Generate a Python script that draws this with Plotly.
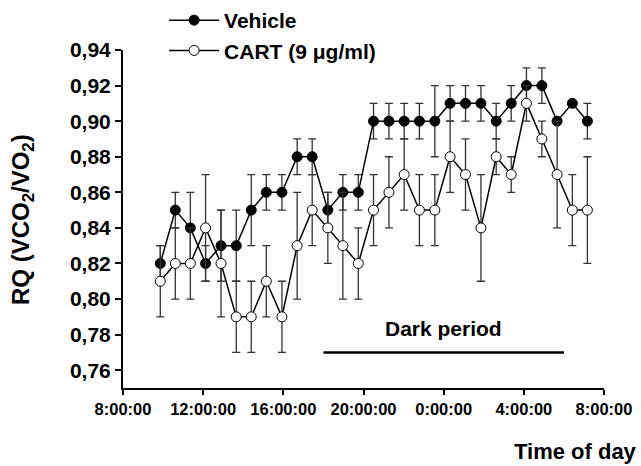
import plotly.graph_objects as go

# Sample times (hours since midnight of day 1; >24 = next day)
hours = [9.86, 10.61, 11.36, 12.12, 12.89, 13.65, 14.40, 15.15, 15.93, 16.69,
         17.44, 18.22, 18.97, 19.74, 20.50, 21.27, 22.03, 22.79, 23.56, 24.32,
         25.09, 25.86, 26.62, 27.37, 28.13, 28.90, 29.66, 30.42, 31.17]

vehicle = [0.82, 0.85, 0.84, 0.82, 0.83, 0.83, 0.85, 0.86, 0.86, 0.88,
           0.88, 0.85, 0.86, 0.86, 0.90, 0.90, 0.90, 0.90, 0.90, 0.91,
           0.91, 0.91, 0.90, 0.91, 0.92, 0.92, 0.90, 0.91, 0.90]
vehicle_err = [0.01, 0.01, 0.02, 0.01, 0.02, 0.02, 0.02, 0.01, 0.01, 0.01,
               0.01, 0.01, 0.01, 0.01, 0.01, 0.01, 0.01, 0.01, 0.02, 0.01,
               0.01, 0.01, 0.01, 0.01, 0.01, 0.01, 0.00, 0.00, 0.01]

cart = [0.81, 0.82, 0.82, 0.84, 0.82, 0.79, 0.79, 0.81, 0.79, 0.83,
        0.85, 0.84, 0.83, 0.82, 0.85, 0.86, 0.87, 0.85, 0.85, 0.88,
        0.87, 0.84, 0.88, 0.87, 0.91, 0.89, 0.87, 0.85, 0.85]
cart_err = [0.02, 0.02, 0.02, 0.03, 0.03, 0.02, 0.02, 0.02, 0.02, 0.03,
            0.02, 0.02, 0.03, 0.02, 0.02, 0.02, 0.02, 0.02, 0.02, 0.02,
            0.02, 0.03, 0.01, 0.01, 0.01, 0.01, 0.03, 0.02, 0.03]

tick_hours = [8, 12, 16, 20, 24, 28, 32]
tick_labels = ["8:00:00", "12:00:00", "16:00:00", "20:00:00", "0:00:00", "4:00:00", "8:00:00"]
y_ticks = [0.76, 0.78, 0.80, 0.82, 0.84, 0.86, 0.88, 0.90, 0.92, 0.94]

dark_start, dark_end, dark_level = 18, 30, 0.77
dark_label_level = 0.7837

FONT = "Liberation Sans, Arial, sans-serif"

fig = go.Figure()
fig.add_trace(go.Scatter(
    x=hours, y=vehicle, name="Vehicle", mode="lines+markers",
    line=dict(color="black", width=1.5),
    marker=dict(symbol="circle", size=10, color="black", line=dict(color="black", width=1)),
    error_y=dict(type="data", array=vehicle_err, color="#333333", thickness=1.3, width=4),
))
fig.add_trace(go.Scatter(
    x=hours, y=cart, name="CART (9 μg/ml)", mode="lines+markers",
    line=dict(color="black", width=1.5),
    marker=dict(symbol="circle", size=10, color="white", line=dict(color="black", width=1)),
    error_y=dict(type="data", array=cart_err, color="#333333", thickness=1.3, width=4),
))

fig.add_shape(type="line", x0=dark_start, x1=dark_end, y0=dark_level, y1=dark_level,
              xref="x", yref="y", line=dict(color="black", width=2.5))
fig.add_annotation(x=(dark_start + dark_end) / 2, y=dark_label_level, xref="x", yref="y",
                   text="<b>Dark period</b>", showarrow=False,
                   font=dict(family=FONT, size=21, color="black"))
fig.add_annotation(x=1.072, y=-0.189, xref="paper", yref="paper", xanchor="right",
                   yanchor="middle", text="<b>Time of day</b>", showarrow=False,
                   font=dict(family=FONT, size=22, color="black"))
fig.add_annotation(x=-0.21, y=0.5, xref="paper", yref="paper", xanchor="center",
                   yanchor="middle", textangle=-90, showarrow=False,
                   text="<b>RQ (VCO<sub>2</sub>/VO<sub>2</sub>)</b>",
                   font=dict(family=FONT, size=24, color="black"))

fig.update_layout(
    width=641, height=466,
    margin=dict(l=123, r=37, t=50, b=78, autoexpand=False),
    paper_bgcolor="white", plot_bgcolor="white",
    separators=",.",
    font=dict(family=FONT, color="black"),
    showlegend=True,
    legend=dict(x=0.256, y=1.0, xref="container", yref="container",
                xanchor="left", yanchor="top",
                font=dict(family=FONT, size=21, color="black", weight="bold"),
                bgcolor="rgba(0,0,0,0)", itemwidth=50, tracegroupgap=0),
    xaxis=dict(range=[8, 32], tickvals=tick_hours, ticktext=tick_labels, automargin=False,
               showline=True, linecolor="black", linewidth=2, ticks="outside",
               ticklen=5, tickwidth=2, tickcolor="black", showgrid=False, zeroline=False,
               tickfont=dict(family=FONT, size=16.5, color="black", weight="bold")),
    yaxis=dict(range=[0.75, 0.94], tickvals=y_ticks, tickformat=".2f", automargin=False,
               showline=True, linecolor="black", linewidth=2, ticks="outside",
               ticklen=6, tickwidth=2, tickcolor="black", showgrid=False, zeroline=False,
               tickfont=dict(family=FONT, size=21, color="black", weight="bold")),
)

fig.write_html("out.html", config={"displayModeBar": False},
               post_script="document.body.style.margin='0';document.body.style.overflow='hidden';")
